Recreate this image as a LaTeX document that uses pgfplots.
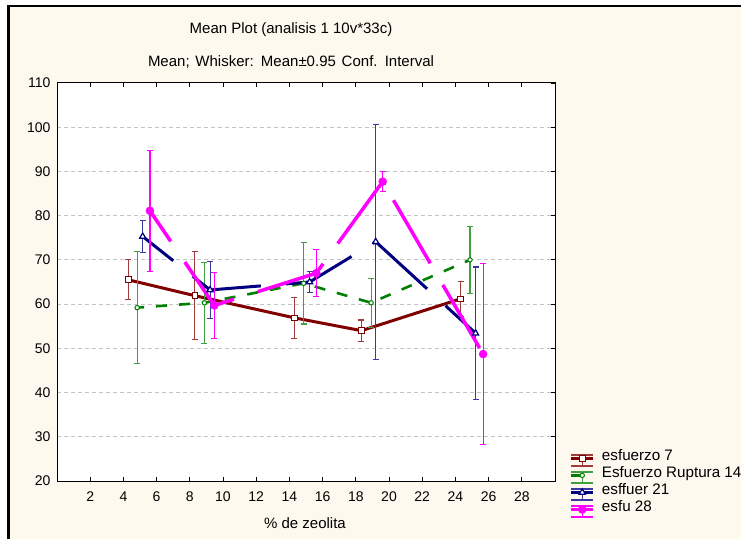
\documentclass[border=0pt]{standalone}
\usepackage{fontspec}
\setmainfont{Liberation Sans}
\usepackage{pgfplots}
\usepackage{pgfplotstable}
\pgfplotsset{compat=1.18}

\definecolor{panel}{HTML}{FEF9EE}
\definecolor{gridc}{HTML}{C4C4C4}
\definecolor{cA}{HTML}{800000}
\definecolor{cAw}{HTML}{9E3C3C}
\definecolor{cB}{HTML}{008000}
\definecolor{cBw}{HTML}{40A040}
\definecolor{cC}{HTML}{000080}
\definecolor{cCw}{HTML}{3838A0}
\definecolor{cD}{HTML}{FF00FF}

% means and 0.95 confidence half-widths
\pgfplotstableread{
x     y     e
4.29  65.5  4.5
8.31  61.9  10.0
14.29 56.9  4.6
18.34 54.0  2.4
24.32 61.2  3.9
}\tabA
\pgfplotstableread{
x     y     e
4.83  59.2  12.6
8.88  60.3  9.2
14.86 64.7  9.2
18.92 60.3  5.5
24.88 70.0  7.5
}\tabB
\pgfplotstableread{
x     y     e
5.16  75.3  3.7
9.22  63.2  6.5
15.22 65.0  2.4
19.20 74.1  26.6
25.22 53.4  15.0
}\tabC
\pgfplotstableread{
x     y     e
5.60  81.1  13.7
9.48  59.7  7.5
15.62 67.0  5.3
19.62 87.7  2.2
25.67 48.7  20.4
}\tabD

% legend sample: whisker caps above and below, the series line and its marker
\newcommand{\whiskerlegend}[2]{%
  \draw[#2, line width=1.5bp, solid] (0bp,3.5bp) -- (22bp,3.5bp);
  \draw[#2, line width=1.5bp, solid] (0bp,-7.5bp) -- (22bp,-7.5bp);
  \draw[#2, line width=1bp, solid] (11bp,3.5bp) -- (11bp,-7.5bp);
  \draw[mark repeat=2, mark phase=2, #1] plot coordinates {(0bp,0bp) (11bp,0bp) (22bp,0bp)};
}

\pgfplotsset{
  whisk/.style={only marks, mark=none, forget plot,
    error bars/.cd, y dir=both, y explicit, error mark=|,
    error bar style={line width=1.1bp, solid},
    error mark options={line width=1.1bp, mark size=3bp, solid}},
  legA/.style={legend image code/.code={\whiskerlegend{##1}{cAw}}},
  legB/.style={legend image code/.code={\whiskerlegend{##1, dash phase=0bp}{cBw}}},
  legC/.style={legend image code/.code={\whiskerlegend{##1}{cCw}}},
  legD/.style={legend image code/.code={\whiskerlegend{##1}{cD}}},
}

\begin{document}
\begin{tikzpicture}
\useasboundingbox (0,0) rectangle (741bp,539bp);
\fill[white] (0,0) rectangle (741bp,539bp);
\fill[panel] (7bp,0) rectangle (741bp,534bp);
\fill[black] (7.3bp,0) rectangle (10bp,534bp);
\fill[black] (7.3bp,531.7bp) rectangle (741bp,534bp);

\begin{axis}[
  at={(57bp,58bp)}, anchor=south west,
  scale only axis, width=498bp, height=398bp,
  xmin=0, xmax=30, ymin=20, ymax=110,
  xtick={2,4,...,28}, ytick={20,30,...,110},
  ytick pos=right, yticklabel pos=left,
  tick align=inside, major tick length=4bp,
  tick style={black, line width=0.8bp},
  axis line style={black, line width=1bp},
  ymajorgrids,
  major grid style={gridc, line width=1bp, dash pattern=on 4bp off 3bp},
  axis background/.style={fill=white},
  /pgf/number format/assume math mode=true,
  ticklabel style={font=\fontsize{14bp}{16bp}\selectfont},
  xticklabel style={yshift=-7bp},
  yticklabel style={xshift=-3bp},
  legend style={at={(rel axis cs:1.0287,0.0786)}, anchor=north west,
    draw=none, fill=none, inner sep=0pt, row sep=0bp,
    font=\fontsize{15.2bp}{17bp}\selectfont,
    nodes={inner sep=0pt, text height=11bp, text depth=6bp}},
  legend cell align=left,
  /tikz/every odd column/.append style={column sep=7bp},
]
% esfuerzo 7
\addplot[cAw, whisk] table[x=x, y=y, y error=e]{\tabA};
\addplot[cA, line width=3bp, mark=square*, mark size=2.8bp,
  mark options={fill=white, line width=1bp, solid}, legA]
  table[x=x, y=y]{\tabA};
\addlegendentry{esfuerzo 7}
% Esfuerzo Ruptura 14
\addplot[cBw, whisk] table[x=x, y=y, y error=e]{\tabB};
\addplot[cB, line width=2.6bp, dash pattern=on 11bp off 12bp, dash phase=4bp,
  mark=*, mark size=2.2bp,
  mark options={fill=white, line width=1bp, solid}, legB]
  table[x=x, y=y]{\tabB};
\addlegendentry{Esfuerzo Ruptura 14}
% esffuer 21
\addplot[cCw, whisk] table[x=x, y=y, y error=e]{\tabC};
\addplot[cC, line width=3bp, dash pattern=on 73bp off 25bp, dash phase=34bp,
  mark=triangle*, mark size=3.5bp,
  mark options={fill=white, line width=1.2bp, solid}, legC]
  table[x=x, y=y]{\tabC};
\addlegendentry{esffuer 21}
% esfu 28
\addplot[cD, whisk] table[x=x, y=y, y error=e]{\tabD};
\addplot[cD, line width=3.5bp, dash pattern=on 73bp off 25bp, dash phase=36bp,
  mark=*, mark size=4bp,
  mark options={fill=cD, line width=0.5bp, solid}, legD]
  table[x=x, y=y]{\tabD};
\addlegendentry{esfu 28}
\end{axis}

\node[font=\fontsize{15bp}{17bp}\selectfont] at (291bp,509bp) {Mean Plot (analisis 1 10v*33c)};
\node[font=\fontsize{15bp}{17bp}\selectfont] at (291bp,477bp) {\spaceskip=5.8bp Mean; Whisker: Mean±0.95 Conf. Interval};
\node[font=\fontsize{15bp}{17bp}\selectfont] at (305bp,16bp) {\% de zeolita};
\end{tikzpicture}
\end{document}
